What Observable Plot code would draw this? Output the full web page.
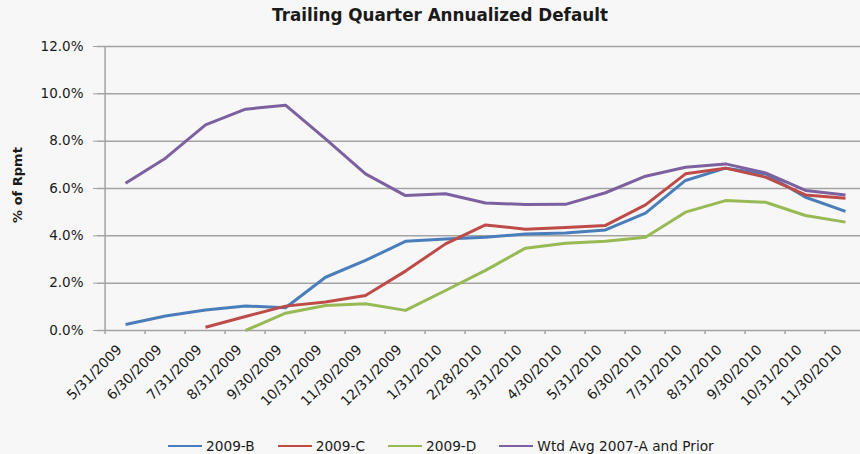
<!DOCTYPE html>
<html>
<head>
<meta charset="utf-8">
<script src="https://cdn.jsdelivr.net/npm/d3@7"></script>
<script src="https://cdn.jsdelivr.net/npm/@observablehq/plot@0.6"></script>
<style>
  html, body { margin: 0; padding: 0; background: #f7f7f7; overflow: hidden; width: 860px; height: 454px; }
  body { position: relative; font-family: "DejaVu Sans", Verdana, sans-serif; color: #1a1a1a; }
  #title { position: absolute; left: 0; width: 880px; top: 5px; text-align: center; font-weight: bold; font-size: 16.8px; line-height: 20px; }
  #chart { position: absolute; left: 0; top: 30px; }
  #ylabel { position: absolute; left: 17px; top: 185px; transform: translate(-50%, -50%) rotate(-90deg); font-weight: bold; font-size: 13px; white-space: nowrap; }
  #legend { position: absolute; left: 168px; top: 437px; display: flex; align-items: center; font-size: 13.7px; line-height: 18px; }
  .item { display: flex; align-items: center; margin-right: 23px; }
  .swatch { width: 34px; height: 2px; margin-right: 4px; }
</style>
</head>
<body>
<div id="title">Trailing Quarter Annualized Default</div>
<div id="ylabel">% of Rpmt</div>
<div id="chart"></div>
<div id="legend"></div>
<script>
const dates = ["5/31/2009","6/30/2009","7/31/2009","8/31/2009","9/30/2009","10/31/2009","11/30/2009","12/31/2009","1/31/2010","2/28/2010","3/31/2010","4/30/2010","5/31/2010","6/30/2010","7/31/2010","8/31/2010","9/30/2010","10/31/2010","11/30/2010"];
const seriesNames = ["2009-B", "2009-C", "2009-D", "Wtd Avg 2007-A and Prior"];
const s2009B = [0.25,0.61,0.87,1.04,0.96,2.25,2.96,3.77,3.87,3.94,4.08,4.12,4.25,4.96,6.34,6.86,6.62,5.63,5.03];
const s2009C = [null,null,0.14,0.59,1.03,1.20,1.48,2.51,3.66,4.46,4.28,4.35,4.44,5.31,6.62,6.86,6.48,5.73,5.59];
const s2009D = [null,null,null,0.0,0.73,1.06,1.13,0.85,1.69,2.54,3.48,3.69,3.77,3.94,5.00,5.49,5.42,4.86,4.58];
const sWtd = [6.22,7.28,8.69,9.35,9.52,8.10,6.62,5.70,5.78,5.39,5.32,5.33,5.82,6.52,6.90,7.04,6.66,5.92,5.73];
const yTicks = [0, 2, 4, 6, 8, 10, 12];
const colors = ["#4a7ebb", "#be4b48", "#98b954", "#7d60a0"];

const allSeries = [s2009B, s2009C, s2009D, sWtd];
const data = [];
allSeries.forEach((vals, si) => {
  vals.forEach((v, i) => {
    if (v !== null) data.push({series: seriesNames[si], date: dates[i], value: v});
  });
});

const plot = Plot.plot({
  width: 860,
  height: 395,
  marginLeft: 97,
  marginRight: 0,
  marginTop: 16,
  marginBottom: 95,
  style: {background: "transparent", fontFamily: "DejaVu Sans, Verdana, sans-serif", fontSize: "13px", color: "#1a1a1a"},
  x: {type: "point", domain: dates, range: [117, 852], padding: 0, align: 0.5},
  y: {domain: [0, 12]},
  color: {domain: seriesNames, range: colors},
  marks: [
    Plot.ruleY(yTicks, {y: d => d, stroke: "#a3a3a3", strokeWidth: 1.5, strokeOpacity: 1}),
    Plot.ruleX([dates[0]], {x: d => d, dx: -20.4, y1: 0, y2: 12, stroke: "#a3a3a3", strokeWidth: 1.5, strokeOpacity: 1}),
    Plot.ruleX(dates, {x: d => d, dx: -20.4, y1: 0, y2: -0.17, stroke: "#a3a3a3", strokeWidth: 1.5, strokeOpacity: 1}),
    Plot.ruleX([dates[dates.length - 1]], {x: d => d, dx: 20.4, y1: 0, y2: -0.17, stroke: "#a3a3a3", strokeWidth: 1.5, strokeOpacity: 1}),
    Plot.axisY({ticks: yTicks, tickFormat: d => d.toFixed(1) + "%", tickSize: 4, tickPadding: 10, label: null, stroke: "#a3a3a3", fontSize: 13.5}),
    Plot.axisX({tickRotate: -45, tickSize: 0, tickPadding: 17, label: null, fontSize: 13.8, dx: -6}),
    Plot.line(data, {x: "date", y: "value", z: "series", stroke: "series", strokeWidth: 3, strokeLinejoin: "round", strokeLinecap: "butt"})
  ]
});
document.getElementById("chart").appendChild(plot);

const legend = document.getElementById("legend");
seriesNames.forEach((name, i) => {
  const item = document.createElement("div");
  item.className = "item";
  const sw = document.createElement("span");
  sw.className = "swatch";
  sw.style.background = colors[i];
  const t = document.createElement("span");
  t.textContent = name;
  item.appendChild(sw);
  item.appendChild(t);
  legend.appendChild(item);
});
</script>
</body>
</html>
